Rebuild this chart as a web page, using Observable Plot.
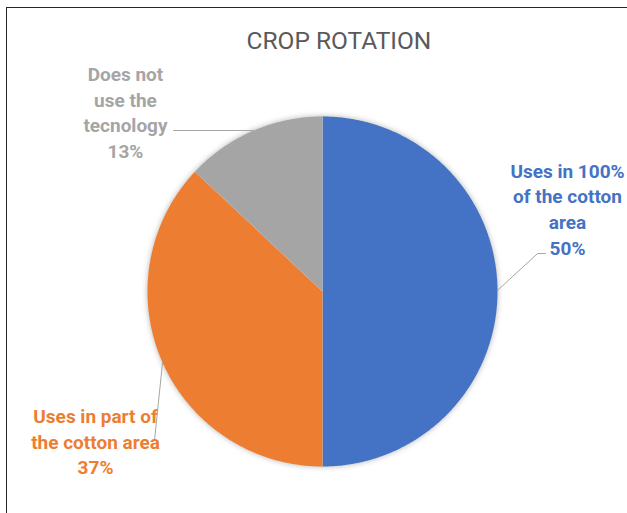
<!DOCTYPE html>
<html>
<head>
<meta charset="utf-8">
<script src="https://cdn.jsdelivr.net/npm/d3@7"></script>
<script src="https://cdn.jsdelivr.net/npm/@observablehq/plot@0.6"></script>
<style>
  html, body { margin: 0; padding: 0; background: #fff; }
  #wrap { position: relative; width: 627px; height: 513px; overflow: hidden; }
  #border { position: absolute; left: 6px; top: 7px; width: 700px; height: 600px;
            border-left: 1.5px solid #262626; border-top: 1.5px solid #262626; }
  #chart { position: absolute; left: 0; top: 0; }
  g[aria-label="dot"] { filter: drop-shadow(0 0 3px rgba(0,0,0,0.35)); }
</style>
</head>
<body>
<div id="wrap"><div id="border"></div><div id="chart"></div></div>
<script>
const title = "CROP ROTATION";
const categories = ["Uses in 100%\nof the cotton\narea", "Uses in part of\nthe cotton area", "Does not\nuse the\ntecnology"];
const values = [50, 37, 13];
const percentLabels = ["50%", "37%", "13%"];
const colors = ["#4472c4", "#ed7d31", "#a5a5a5"];

// layout (label anchors and leader lines, in pie-radius units)
const labelPos = [[1.40, 0.477], [-1.297, -0.851], [-1.126, 1.03]];
const leaders = [
  [[1.0, 0.006], [1.229, 0.217], [1.274, 0.217]],
  [[-0.914, -0.406], [-0.96, -0.851]],
  [[-0.851, 0.92], [-0.394, 0.92]]
];

const table = categories.map((c, i) => ({cat: c, value: values[i], pct: percentLabels[i]}));
const arcs = d3.pie().sort(null).value(d => d.value)(table);

const slicePts = [];
arcs.forEach(a => {
  const cat = a.data.cat;
  slicePts.push({cat, x: 0, y: 0});
  const n = Math.max(4, Math.ceil((a.endAngle - a.startAngle) / 0.01));
  for (let k = 0; k <= n; k++) {
    const t = a.startAngle + (a.endAngle - a.startAngle) * k / n;
    slicePts.push({cat, x: Math.sin(t), y: Math.cos(t)});
  }
  slicePts.push({cat, x: 0, y: 0});
});

const labels = table.map((d, i) => ({text: d.cat + "\n" + d.pct, cat: d.cat, x: labelPos[i][0], y: labelPos[i][1]}));
const leaderPts = leaders.flatMap((pts, i) => pts.map(p => ({id: i, x: p[0], y: p[1]})));

const chart = Plot.plot({
  width: 627,
  height: 513,
  margin: 0,
  style: {background: "transparent", overflow: "visible"},
  x: {domain: [-1, 1], range: [147, 497], axis: null},
  y: {domain: [-1, 1], range: [466, 116], axis: null},
  color: {domain: categories, range: colors},
  marks: [
    Plot.dot([{x: 0, y: 0}], {x: "x", y: "y", r: 174.5, fill: "#fff", stroke: "none"}),
    Plot.line(slicePts, {x: "x", y: "y", z: "cat", fill: "cat", stroke: "none", curve: "linear"}),
    Plot.line(leaderPts, {x: "x", y: "y", z: "id", stroke: "#a6a6a6", strokeWidth: 1}),
    Plot.text(labels, {x: "x", y: "y", text: "text", fill: "cat", fontFamily: "Roboto", fontWeight: "bold",
                       fontSize: 19, lineHeight: 1.35, textAnchor: "middle"}),
    Plot.text([title], {x: () => 0.094, y: () => 1.431, text: d => d, fill: "#595959",
                        fontFamily: "Roboto", fontSize: 24.5, textAnchor: "middle"})
  ]
});
document.getElementById("chart").appendChild(chart);
</script>
</body>
</html>
